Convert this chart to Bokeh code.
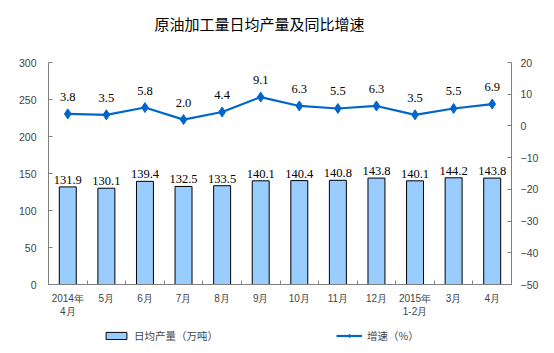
from bokeh.plotting import figure
from bokeh.layouts import column
from bokeh.models import (ColumnDataSource, Range1d, LinearAxis, FixedTicker, Legend,
                          LegendItem, LabelSet, Label)
from bokeh.embed import file_html
from bokeh.resources import INLINE

title_text = "原油加工量日均产量及同比增速"
categories = ["2014年\n4月", "5月", "6月", "7月", "8月", "9月", "10月", "11月", "12月",
              "2015年\n1-2月", "3月", "4月"]
output = [131.9, 130.1, 139.4, 132.5, 133.5, 140.1, 140.4, 140.8, 143.8, 140.1, 144.2, 143.8]
growth = [3.8, 3.5, 5.8, 2.0, 4.4, 9.1, 6.3, 5.5, 6.3, 3.5, 5.5, 6.9]
left_ticks = [0, 50, 100, 150, 200, 250, 300]
right_ticks = [-50, -40, -30, -20, -10, 0, 10, 20]
series_names = ["日均产量（万吨）", "增速（%）"]

xs = list(range(len(categories)))
src = ColumnDataSource(dict(
    x=xs, out=output, gr=growth,
    out_lbl=[f"{v:.1f}" for v in output],
    gr_lbl=[f"{v:.1f}" for v in growth],
))

CJK = "Noto Sans CJK SC"
NUM = "Liberation Sans Narrow"
BAR_FILL = "#99CCFF"
LINE_COL = "#0066CC"
W = 554

# title strip
t = figure(width=W, height=40, output_backend="svg", toolbar_location=None,
           x_range=Range1d(0, 1), y_range=Range1d(0, 1), min_border=0,
           x_axis_location=None, y_axis_location=None)
t.grid.visible = False
t.outline_line_color = None
t.add_layout(Label(x=211, y=17, x_units="screen", y_units="screen", text=title_text,
                   text_align="center", text_baseline="middle", text_font=CJK,
                   text_font_size="15px", text_color="black"))

# main chart
p = figure(width=W, height=285, output_backend="svg", toolbar_location=None,
           x_range=Range1d(-0.5, len(categories) - 0.5), y_range=Range1d(0, 300),
           min_border_left=48, min_border_right=43, min_border_top=22, min_border_bottom=41)
p.outline_line_color = None
p.xgrid.grid_line_color = None
p.ygrid.grid_line_color = None

p.extra_y_ranges = {"r": Range1d(-50, 20)}

p.vbar(x="x", top="out", width=0.44, source=src, fill_color=BAR_FILL,
       line_color="black", line_width=1)
p.line(x="x", y="gr", source=src, y_range_name="r", line_color=LINE_COL, line_width=2.2)
p.scatter(x="x", y="gr", source=src, y_range_name="r", marker="diamond", size=10,
          fill_color=LINE_COL, line_color=LINE_COL)

p.add_layout(LabelSet(x="x", y="out", text="out_lbl", source=src, text_align="center",
                      text_baseline="bottom", y_offset=3, text_font=NUM,
                      text_font_size="12.5px", text_color="black"))
p.add_layout(LabelSet(x="x", y="gr", text="gr_lbl", source=src, y_range_name="r",
                      text_align="center", text_baseline="bottom", y_offset=13,
                      text_font=NUM, text_font_size="12.5px", text_color="black"))

xa = p.xaxis[0]
xa.ticker = FixedTicker(ticks=xs, minor_ticks=[i - 0.5 for i in range(len(categories) + 1)])
xa.major_label_overrides = {i: c for i, c in enumerate(categories)}
xa.major_tick_in = 0
xa.major_tick_out = 0
xa.minor_tick_in = 4
xa.minor_tick_out = 0
xa.minor_tick_line_color = "#808080"
xa.axis_line_color = "#808080"
xa.major_label_text_font = "Liberation Sans"
xa.major_label_text_font_size = "10px"
xa.major_label_standoff = 8

ya = p.yaxis[0]
ya.ticker = FixedTicker(ticks=left_ticks)
ya.major_tick_in = 4
ya.major_tick_out = 0
ya.minor_tick_line_color = None
ya.axis_line_color = "#808080"
ya.major_tick_line_color = "#808080"
ya.major_label_text_font = "Liberation Sans"
ya.major_label_text_font_size = "10.5px"
ya.major_label_standoff = 12

ra = LinearAxis(y_range_name="r", ticker=FixedTicker(ticks=right_ticks))
ra.major_tick_in = 4
ra.major_tick_out = 0
ra.minor_tick_line_color = None
ra.axis_line_color = "#808080"
ra.major_tick_line_color = "#808080"
ra.major_label_text_font = "Liberation Sans"
ra.major_label_text_font_size = "10.5px"
ra.major_label_standoff = 9
p.add_layout(ra, "right")

# legend strip (its renderers use the same data but lie outside the strip's visible range)
q = figure(width=W, height=28, output_backend="svg", toolbar_location=None,
           x_range=Range1d(-0.5, len(categories) - 0.5), y_range=Range1d(1000, 1001),
           min_border=0, x_axis_location=None, y_axis_location=None)
q.grid.visible = False
q.outline_line_color = None
lb = q.vbar(x="x", top="out", width=0.44, source=src, fill_color=BAR_FILL,
            line_color="black", line_width=1)
ll = q.line(x="x", y="gr", source=src, line_color=LINE_COL, line_width=2.2)
lp = q.scatter(x="x", y="gr", source=src, marker="diamond", size=10,
               fill_color=LINE_COL, line_color=LINE_COL)
legend = Legend(items=[LegendItem(label=series_names[0], renderers=[lb]),
                       LegendItem(label=series_names[1], renderers=[ll, lp])],
                orientation="horizontal", location=(55, 10), spacing=118,
                glyph_width=26, glyph_height=9, label_standoff=5, padding=0, margin=0,
                border_line_color=None, background_fill_alpha=0,
                label_text_font=CJK, label_text_font_size="10.5px")
q.add_layout(legend, "center")

layout = column(t, p, q, spacing=0)
open("out.html", "w").write(file_html(layout, INLINE))
